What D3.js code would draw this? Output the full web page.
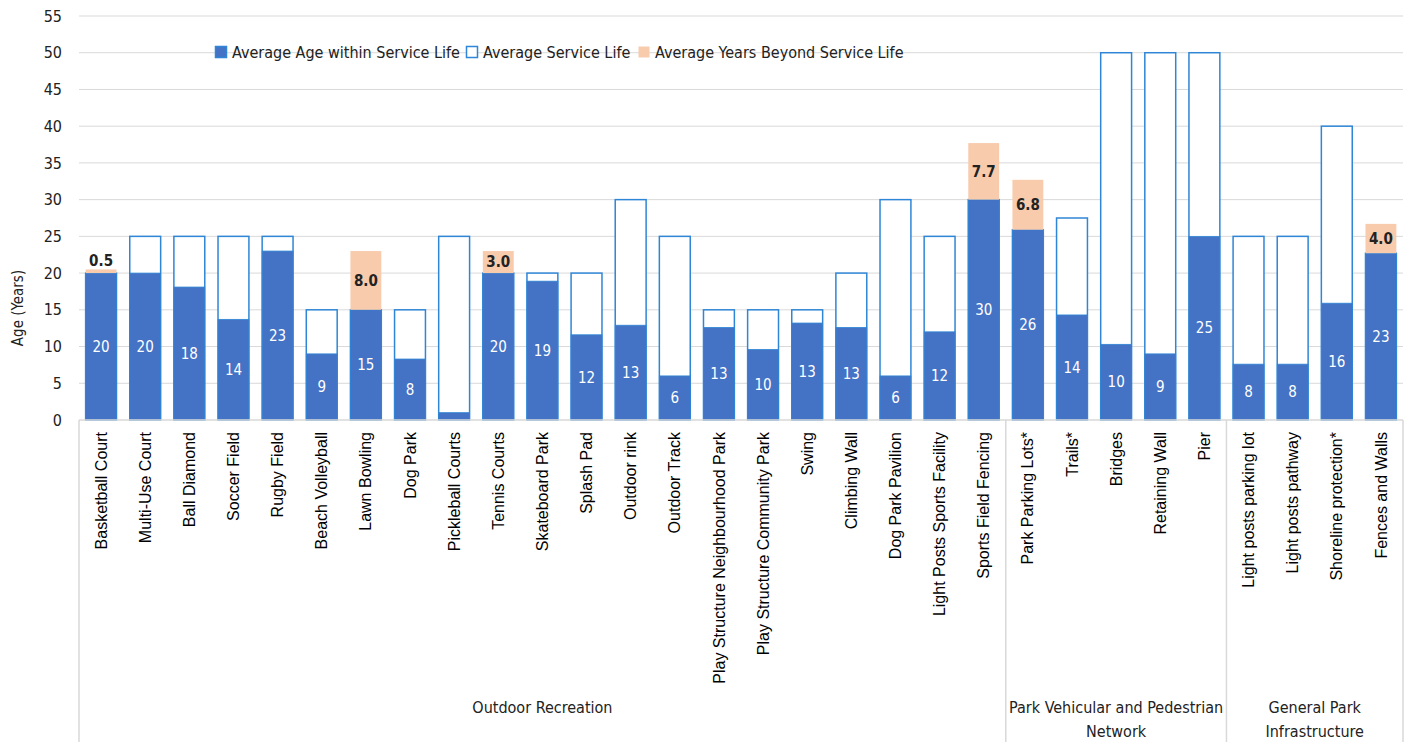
<!DOCTYPE html>
<html>
<head>
<meta charset="utf-8">
<script src="https://cdn.jsdelivr.net/npm/d3@7"></script>
<style>
  body { margin: 0; background: #fff; }
  svg { display: block; }
  .cond { font-family: "Liberation Sans Narrow", "DejaVu Sans Condensed", "Roboto Condensed", "Liberation Sans", sans-serif; }
  .cat { font-family: "Liberation Sans", Arial, sans-serif; }
</style>
</head>
<body>
<svg width="1411" height="742"></svg>
<script>
// asset categories and groups
var categories = ["Basketball Court","Multi-Use Court","Ball Diamond","Soccer Field","Rugby Field","Beach Volleyball","Lawn Bowling","Dog Park","Pickleball Courts","Tennis Courts","Skateboard Park","Splash Pad","Outdoor rink","Outdoor Track","Play Structure Neighbourhood Park","Play Structure Community Park","Swing","Climbing Wall","Dog Park Pavilion","Light Posts Sports Facility","Sports Field Fencing","Park Parking Lots*","Trails*","Bridges","Retaining Wall","Pier","Light posts parking lot","Light posts pathway","Shoreline protection*","Fences and Walls"];
var groups = ["Outdoor Recreation","Outdoor Recreation","Outdoor Recreation","Outdoor Recreation","Outdoor Recreation","Outdoor Recreation","Outdoor Recreation","Outdoor Recreation","Outdoor Recreation","Outdoor Recreation","Outdoor Recreation","Outdoor Recreation","Outdoor Recreation","Outdoor Recreation","Outdoor Recreation","Outdoor Recreation","Outdoor Recreation","Outdoor Recreation","Outdoor Recreation","Outdoor Recreation","Outdoor Recreation","Park Vehicular and Pedestrian Network","Park Vehicular and Pedestrian Network","Park Vehicular and Pedestrian Network","Park Vehicular and Pedestrian Network","Park Vehicular and Pedestrian Network","General Park Infrastructure","General Park Infrastructure","General Park Infrastructure","General Park Infrastructure"];
var groupLines = [["Outdoor Recreation"],["Park Vehicular and Pedestrian","Network"],["General Park","Infrastructure"]];

// series
var ageWithin   = [20,20,18.1,13.7,23,9,15,8.3,1,20,18.9,11.6,12.9,6,12.6,9.6,13.2,12.6,6,12,30,25.9,14.3,10.3,9,25,7.6,7.6,15.9,22.7];
var serviceLife = [20,25,25,25,25,15,15,15,25,20,20,20,30,25,15,15,15,20,30,25,30,25.9,27.5,50,50,50,25,25,40,22.7];
var beyondLife  = [0.5,0,0,0,0,0,8.0,0,0,3.0,0,0,0,0,0,0,0,0,0,0,7.7,6.8,0,0,0,0,0,0,0,4.0];
var yTicks = [0,5,10,15,20,25,30,35,40,45,50,55];
var legendNames = ["Average Age within Service Life","Average Service Life","Average Years Beyond Service Life"];

var data = categories.map(function(c,i){
    return {name:c, group:groups[i], within:ageWithin[i], life:serviceLife[i], beyond:beyondLife[i]};
});

var blue = "#4472C4", outline = "#2F86D6", peach = "#F8CBAD", grid = "#D9D9D9";

var svg = d3.select("svg");
var plotLeft = 79, plotRight = 1403, plotTop = 16, plotBottom = 420;

var x = d3.scaleBand().domain(categories).range([plotLeft,plotRight]).paddingInner(0.3).paddingOuter(0.15);
var y = d3.scaleLinear().domain([0,55]).range([plotBottom,plotTop]);

// gridlines
svg.append("g").selectAll("line")
    .data(yTicks.filter(function(t){return t>0;}))
    .enter().append("line")
    .attr("x1",plotLeft).attr("x2",plotRight)
    .attr("y1",function(d){return y(d);}).attr("y2",function(d){return y(d);})
    .attr("stroke",grid).attr("stroke-width",1);

// y tick labels
svg.append("g").selectAll("text")
    .data(yTicks).enter().append("text")
    .attr("class","cond")
    .attr("x",62).attr("y",function(d){return y(d);})
    .attr("dy","0.35em")
    .attr("text-anchor","end")
    .attr("font-size",16)
    .attr("fill","#222")
    .text(function(d){return d;});

// y title
svg.append("text").attr("class","cond")
    .attr("transform","translate(23,308) rotate(-90)")
    .attr("text-anchor","middle")
    .attr("font-size",15)
    .attr("fill","#222")
    .text("Age (Years)");

// bars
var bars = svg.append("g").selectAll("g").data(data).enter().append("g");

bars.append("rect")
    .attr("x",function(d){return x(d.name);})
    .attr("width",x.bandwidth())
    .attr("y",function(d){return y(d.life);})
    .attr("height",function(d){return y(0)-y(d.life);})
    .attr("fill","#fff").attr("stroke",outline).attr("stroke-width",1.5);

bars.append("rect")
    .attr("x",function(d){return x(d.name);})
    .attr("width",x.bandwidth())
    .attr("y",function(d){return y(d.within);})
    .attr("height",function(d){return y(0)-y(d.within);})
    .attr("fill",blue).attr("stroke",outline).attr("stroke-width",0.8);

bars.filter(function(d){return d.beyond>0;}).append("rect")
    .attr("x",function(d){return x(d.name);})
    .attr("width",x.bandwidth())
    .attr("y",function(d){return y(d.within+d.beyond);})
    .attr("height",function(d){return y(d.within)-y(d.within+d.beyond);})
    .attr("fill",peach);

// value labels
bars.filter(function(d){return d.within>=3;}).append("text")
    .attr("class","cond")
    .attr("x",function(d){return x(d.name)+x.bandwidth()/2;})
    .attr("y",function(d){return y(d.within/2);})
    .attr("dy","0.35em")
    .attr("text-anchor","middle")
    .attr("font-size",15)
    .attr("fill","#fff")
    .text(function(d){return d3.format(".0f")(d.within);});

bars.filter(function(d){return d.beyond>0;}).append("text")
    .attr("class","cond")
    .attr("x",function(d){return x(d.name)+x.bandwidth()/2;})
    .attr("y",function(d){
        if(d.beyond<2){ return y(d.within+d.beyond)-9; }
        return y(d.within+d.beyond/2);
    })
    .attr("dy","0.35em")
    .attr("text-anchor","middle")
    .attr("font-size",15)
    .attr("font-weight","bold")
    .attr("fill","#222")
    .text(function(d){return d3.format(".1f")(d.beyond);});

// x axis line and group separators
svg.append("line").attr("x1",plotLeft).attr("x2",plotRight).attr("y1",plotBottom).attr("y2",plotBottom)
    .attr("stroke",grid).attr("stroke-width",1.5);

var groupNames = Array.from(new Set(groups));
var bounds = groupNames.map(function(g){
    var idx = groups.map(function(v,i){return v==g?i:-1;}).filter(function(i){return i>=0;});
    var step = x.step();
    var x0 = x(categories[idx[0]]) - step*x.paddingInner()/2;
    var x1 = x(categories[idx[idx.length-1]]) + x.bandwidth() + step*x.paddingInner()/2;
    return {name:g, x0:x0, x1:x1};
});
bounds[0].x0 = plotLeft; bounds[bounds.length-1].x1 = plotRight;

var seps = [plotLeft].concat(bounds.map(function(b){return b.x1;}));
seps[seps.length-1] = plotRight;
svg.append("g").selectAll("line").data(seps).enter().append("line")
    .attr("x1",function(d){return d;}).attr("x2",function(d){return d;})
    .attr("y1",plotBottom).attr("y2",742)
    .attr("stroke",grid).attr("stroke-width",1.5);

// category labels
svg.append("g").selectAll("text").data(categories).enter().append("text")
    .attr("class","cat")
    .attr("transform",function(d){return "translate("+(x(d)+x.bandwidth()/2)+",432) rotate(-90)";})
    .attr("dy","0.35em")
    .attr("text-anchor","end")
    .attr("font-size",16)
    .attr("fill","#000")
    .text(function(d){return d;});

// group labels
bounds.forEach(function(b,i){
    var t = svg.append("text").attr("class","cond")
        .attr("text-anchor","middle")
        .attr("font-size",16)
        .attr("fill","#222");
    groupLines[i].forEach(function(line,j){
        t.append("tspan").attr("x",(b.x0+b.x1)/2).attr("y",713+j*24).text(line);
    });
});

// legend
var legendX = [215,466,638];
var lg = svg.append("g").selectAll("g").data(legendNames).enter().append("g")
    .attr("transform",function(d,i){return "translate("+legendX[i]+",46)";});
lg.append("rect").attr("x",0.5).attr("y",0.5).attr("width",11).attr("height",11)
    .attr("fill",function(d,i){return i==0?blue:(i==1?"#fff":peach);})
    .attr("stroke",function(d,i){return i==2?"none":outline;})
    .attr("stroke-width",1.5);
lg.append("text").attr("class","cond")
    .attr("x",17).attr("y",6).attr("dy","0.35em")
    .attr("font-size",16)
    .attr("fill","#222")
    .text(function(d){return d;});
</script>
</body>
</html>
